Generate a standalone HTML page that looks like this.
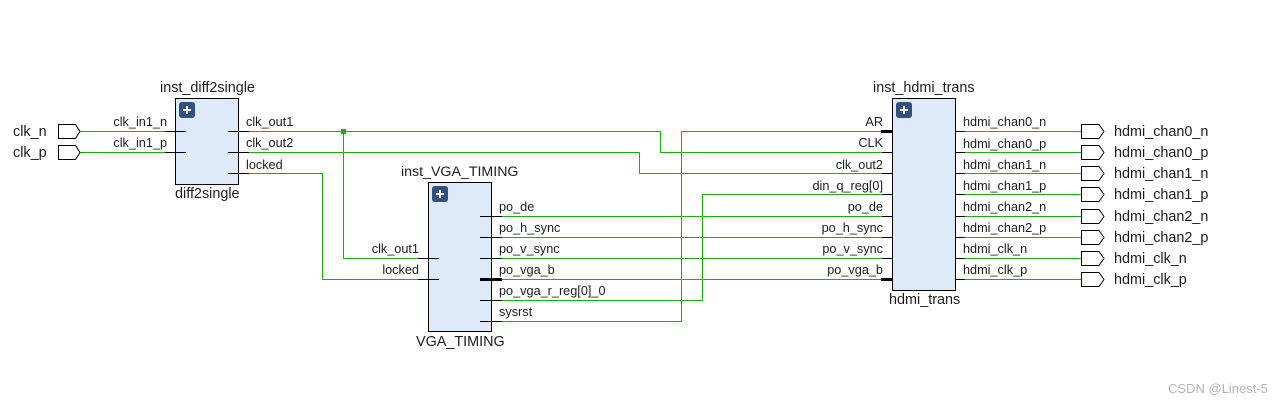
<!DOCTYPE html>
<html><head><meta charset="utf-8"><style>
html,body{margin:0;padding:0;background:#fff;width:1283px;height:404px;overflow:hidden}
svg{display:block}
text{font-family:"Liberation Sans",sans-serif;fill:#1c1c1c}
.s{font-size:12.7px}.b{font-size:14.4px}.e{text-anchor:end}
.w{fill:none;stroke:#1ab00a;stroke-width:1}
.k{fill:none;stroke:#000;stroke-width:1}
.t{fill:none;stroke:#000;stroke-width:3}
.blk{fill:#deeaf8;stroke:#000;stroke-width:1}
.p{fill:#fff;stroke:#000;stroke-width:1}
.ic{fill:#34507f}
.pl{stroke:#fff;stroke-width:2;fill:none}
</style></head><body>
<svg width="1283" height="404" viewBox="0 0 1283 404" xmlns="http://www.w3.org/2000/svg">
<rect width="1283" height="404" fill="#fff"/>
<!-- wires -->
<path class="w" d="M80 131.5H165M80 152.5H165"/>
<path class="w" d="M249 131.5H660.5V152.5H882"/>
<path class="w" d="M249 152.5H639.5V173.5H882"/>
<path class="w" d="M249 173.5H322.5V279.5H418"/>
<path class="w" d="M343.5 131.5V258.5H418"/>
<path class="w" d="M502 216.5H882M502 237.5H882M502 258.5H882M502 279.5H882"/>
<path class="w" d="M502 300.5H702.5V194.5H882"/>
<path class="w" d="M502 321.5H681.5V131.5H882"/>
<path class="w" d="M965 131.5H1082M965 152.5H1082M965 173.5H1082M965 194.5H1082M965 216.5H1082M965 237.5H1082M965 258.5H1082M965 279.5H1082"/>
<rect x="341" y="129" width="5" height="5" fill="#1ab00a"/>
<!-- blocks -->
<rect class="blk" x="175.5" y="98.5" width="63" height="86"/>
<rect class="blk" x="428.5" y="182.5" width="63" height="149"/>
<rect class="blk" x="892.5" y="98.5" width="63" height="192"/>
<!-- stubs -->
<path class="k" d="M165 131.5H186M165 152.5H186M228 131.5H249M228 152.5H249M228 173.5H249"/>
<path class="k" d="M418 258.5H439M418 279.5H439M480 216.5H502M480 237.5H502M480 258.5H502M480 300.5H502M480 321.5H502"/>
<path class="t" d="M480 279.5H502"/>
<path class="k" d="M882 152.5H892M882 173.5H892M882 194.5H892M882 216.5H892M882 237.5H892M882 258.5H892"/>
<path class="t" d="M881 131.5H892M881 279.5H892"/>
<path class="k" d="M956 131.5H965M956 152.5H965M956 173.5H965M956 194.5H965M956 216.5H965M956 237.5H965M956 258.5H965M956 279.5H965"/>
<!-- icons -->
<rect class="ic" x="179" y="102" width="16" height="16" rx="3"/><path class="pl" d="M183 110H191M187 106V114"/>
<rect class="ic" x="432" y="186" width="16" height="16" rx="3"/><path class="pl" d="M436 194H444M440 190V198"/>
<rect class="ic" x="896" y="102" width="16" height="16" rx="3"/><path class="pl" d="M900 110H908M904 106V114"/>
<!-- ports -->
<path class="p" d="M58.5 124.5H75.5L80 131.5L75.5 138.5H58.5Z"/>
<path class="p" d="M58.5 145.5H75.5L80 152.5L75.5 159.5H58.5Z"/>
<path class="p" d="M1081.5 124.5H1099L1104 131.5L1099 138.5H1081.5Z"/>
<path class="p" d="M1081.5 145.5H1099L1104 152.5L1099 159.5H1081.5Z"/>
<path class="p" d="M1081.5 166.5H1099L1104 173.5L1099 180.5H1081.5Z"/>
<path class="p" d="M1081.5 187.5H1099L1104 194.5L1099 201.5H1081.5Z"/>
<path class="p" d="M1081.5 209.5H1099L1104 216.5L1099 223.5H1081.5Z"/>
<path class="p" d="M1081.5 230.5H1099L1104 237.5L1099 244.5H1081.5Z"/>
<path class="p" d="M1081.5 251.5H1099L1104 258.5L1099 265.5H1081.5Z"/>
<path class="p" d="M1081.5 272.5H1099L1104 279.5L1099 286.5H1081.5Z"/>
<!-- labels: left ports -->
<text class="b" x="13" y="136">clk_n</text>
<text class="b" x="13" y="157">clk_p</text>
<!-- diff2single -->
<text class="b" x="160" y="92">inst_diff2single</text>
<text class="b" x="175" y="198">diff2single</text>
<text class="s e" x="167" y="126">clk_in1_n</text>
<text class="s e" x="167" y="147">clk_in1_p</text>
<text class="s" x="246" y="126">clk_out1</text>
<text class="s" x="246" y="147">clk_out2</text>
<text class="s" x="246" y="169">locked</text>
<!-- VGA -->
<text class="b" x="401" y="176" style="font-size:14.2px">inst_VGA_TIMING</text>
<text class="b" x="416" y="346">VGA_TIMING</text>
<text class="s e" x="419" y="253">clk_out1</text>
<text class="s e" x="419" y="274">locked</text>
<text class="s" x="499" y="211">po_de</text>
<text class="s" x="499" y="232">po_h_sync</text>
<text class="s" x="499" y="253">po_v_sync</text>
<text class="s" x="499" y="274">po_vga_b</text>
<text class="s" x="499" y="295">po_vga_r_reg[0]_0</text>
<text class="s" x="499" y="316">sysrst</text>
<!-- hdmi -->
<text class="b" x="873" y="92">inst_hdmi_trans</text>
<text class="b" x="889" y="304">hdmi_trans</text>
<text class="s e" x="883" y="126">AR</text>
<text class="s e" x="883" y="147">CLK</text>
<text class="s e" x="883" y="169">clk_out2</text>
<text class="s e" x="883" y="190">din_q_reg[0]</text>
<text class="s e" x="883" y="211">po_de</text>
<text class="s e" x="883" y="232">po_h_sync</text>
<text class="s e" x="883" y="253">po_v_sync</text>
<text class="s e" x="883" y="274">po_vga_b</text>
<text class="s" x="963" y="126">hdmi_chan0_n</text>
<text class="s" x="963" y="148">hdmi_chan0_p</text>
<text class="s" x="963" y="169">hdmi_chan1_n</text>
<text class="s" x="963" y="190">hdmi_chan1_p</text>
<text class="s" x="963" y="211">hdmi_chan2_n</text>
<text class="s" x="963" y="232">hdmi_chan2_p</text>
<text class="s" x="963" y="253">hdmi_clk_n</text>
<text class="s" x="963" y="274">hdmi_clk_p</text>
<!-- right ports -->
<text class="b" x="1114" y="136">hdmi_chan0_n</text>
<text class="b" x="1114" y="157">hdmi_chan0_p</text>
<text class="b" x="1114" y="178">hdmi_chan1_n</text>
<text class="b" x="1114" y="199">hdmi_chan1_p</text>
<text class="b" x="1114" y="221">hdmi_chan2_n</text>
<text class="b" x="1114" y="242">hdmi_chan2_p</text>
<text class="b" x="1114" y="263">hdmi_clk_n</text>
<text class="b" x="1114" y="284">hdmi_clk_p</text>
<text x="1168" y="393" style="font-size:13px;fill:#b4b4b4">CSDN @Linest-5</text>
</svg>
</body></html>
